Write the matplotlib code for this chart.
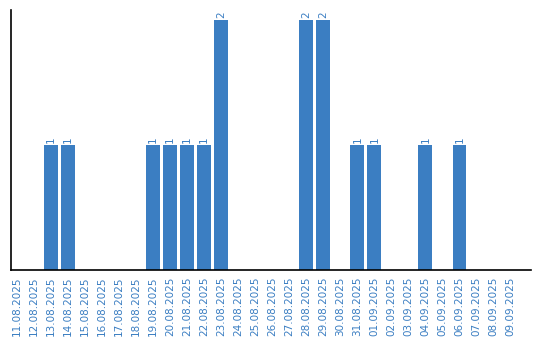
import matplotlib
matplotlib.use("Agg")
import matplotlib.pyplot as plt
import pandas as pd

# daily counts, 11.08.2025 - 09.09.2025
dates = pd.date_range("2025-08-11", "2025-09-09", freq="D")
labels = [d.strftime("%d.%m.%Y") for d in dates]
counts = [0, 0, 1, 1, 0, 0, 0, 0, 1, 1, 1, 1, 2, 0, 0,
          0, 0, 2, 2, 0, 1, 1, 0, 0, 1, 0, 1, 0, 0, 0]

blue = "#3b7ec2"

fig = plt.figure(figsize=(5.4, 3.4), dpi=100)
ax = fig.add_axes([10.5 / 540, 70 / 340, 520.5 / 540, 260 / 340])

x = list(range(len(labels)))
bars = ax.bar(x, counts, width=0.82, color=blue)

for xi, c in zip(x, counts):
    if c > 0:
        ax.annotate(str(c), (xi, c), xytext=(0, 1.5), textcoords="offset points",
                    rotation=90, ha="center", va="bottom", color=blue, fontsize=7.5)

ax.set_xlim(-0.38, 30.2)
ax.set_ylim(0, 2.08)
ax.set_xticks(x)
ax.set_xticklabels(labels, rotation=90, color=blue, fontsize=7.5)
ax.tick_params(axis="x", length=0, pad=5)
ax.set_yticks([])
ax.spines["top"].set_visible(False)
ax.spines["right"].set_visible(False)
ax.spines["left"].set_linewidth(1.2)
ax.spines["bottom"].set_linewidth(1.2)

fig.savefig("out.png", dpi=100)
